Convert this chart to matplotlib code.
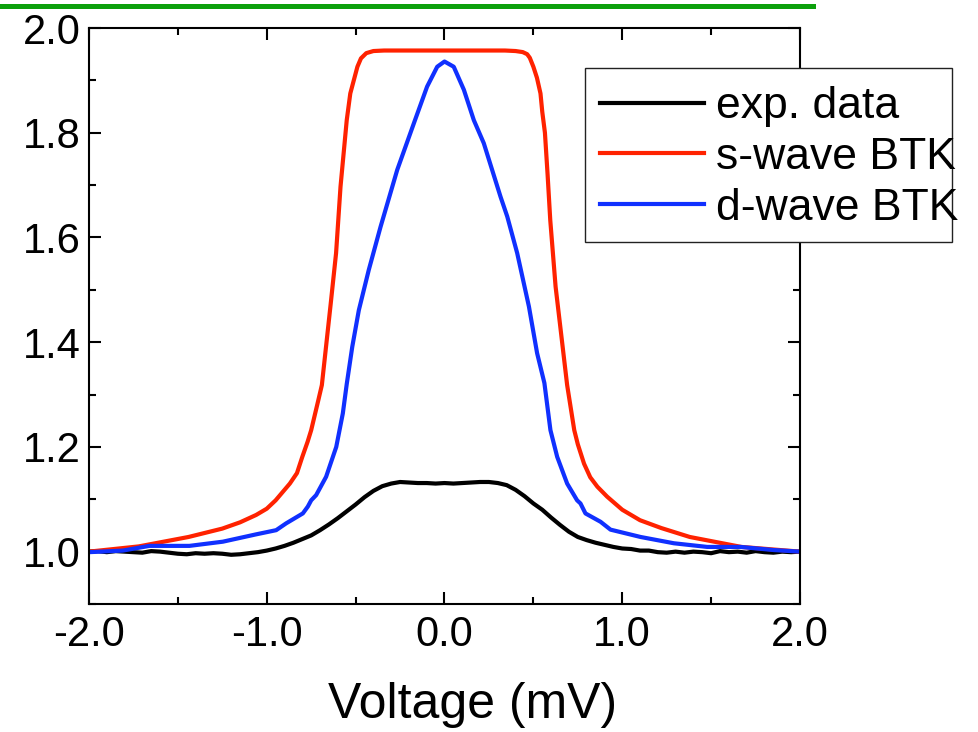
import matplotlib
matplotlib.use('Agg')
import matplotlib.pyplot as plt
from matplotlib.patches import Rectangle
from matplotlib.lines import Line2D
from matplotlib.ticker import MultipleLocator, FormatStrFormatter

plt.rcParams['font.family'] = ['Liberation Sans', 'DejaVu Sans']
plt.rcParams['axes.unicode_minus'] = False

# experimental conductance (normalised)
exp_v = [-2.0, -1.95, -1.9, -1.85, -1.8, -1.75, -1.7, -1.65, -1.6, -1.55,
         -1.5, -1.45, -1.4, -1.35, -1.3, -1.25, -1.2, -1.15, -1.1, -1.05,
         -1.0, -0.95, -0.9, -0.85, -0.8, -0.75, -0.7, -0.65, -0.6, -0.55,
         -0.5, -0.45, -0.4, -0.35, -0.3, -0.25, -0.2, -0.15, -0.1, -0.05,
         0.0, 0.05, 0.1, 0.15, 0.2, 0.25, 0.3, 0.35, 0.4, 0.45,
         0.5, 0.55, 0.6, 0.65, 0.7, 0.75, 0.8, 0.85, 0.9, 0.95,
         1.0, 1.05, 1.1, 1.15, 1.2, 1.25, 1.3, 1.35, 1.4, 1.45,
         1.5, 1.55, 1.6, 1.65, 1.7, 1.75, 1.8, 1.85, 1.9, 1.95, 2.0]
exp_g = [1.000, 1.001, 0.999, 1.001, 1.000, 0.999, 0.998, 1.001, 1.000, 0.998,
         0.996, 0.995, 0.997, 0.996, 0.997, 0.996, 0.994, 0.995, 0.997, 0.999,
         1.002, 1.006, 1.011, 1.017, 1.024, 1.031, 1.041, 1.052, 1.064, 1.077,
         1.090, 1.104, 1.116, 1.125, 1.130, 1.133, 1.132, 1.131, 1.131, 1.130,
         1.131, 1.130, 1.131, 1.132, 1.133, 1.133, 1.131, 1.127, 1.118, 1.106,
         1.092, 1.080, 1.065, 1.051, 1.038, 1.028, 1.022, 1.017, 1.013, 1.009,
         1.006, 1.005, 1.002, 1.002, 0.999, 0.998, 1.000, 0.998, 1.000, 0.999,
         0.997, 1.001, 0.999, 1.000, 0.998, 1.001, 0.999, 0.998, 1.000, 0.999, 1.000]

# s-wave BTK fit
s_v = [-2.0, -1.72, -1.44, -1.25, -1.15, -1.06, -1.0, -0.95, -0.90, -0.87,
       -0.83, -0.80, -0.77, -0.75, -0.71, -0.69, -0.64, -0.61, -0.585, -0.55,
       -0.53, -0.49, -0.47, -0.44, -0.40, -0.34, 0.0, 0.34, 0.40, 0.44,
       0.465, 0.48, 0.50, 0.52, 0.54, 0.55, 0.565, 0.58, 0.595, 0.625,
       0.69, 0.73, 0.75, 0.785, 0.82, 0.86, 0.915, 1.0, 1.10, 1.22,
       1.38, 1.67, 2.0]
s_g = [1.0, 1.010, 1.028, 1.044, 1.056, 1.070, 1.082, 1.098, 1.118, 1.130,
       1.150, 1.181, 1.210, 1.232, 1.289, 1.318, 1.474, 1.570, 1.697, 1.824,
       1.875, 1.926, 1.942, 1.952, 1.956, 1.957, 1.957, 1.957, 1.956, 1.954,
       1.950, 1.943, 1.926, 1.905, 1.875, 1.84, 1.800, 1.72, 1.633, 1.506,
       1.318, 1.232, 1.205, 1.168, 1.142, 1.124, 1.105, 1.080, 1.060, 1.045,
       1.028, 1.009, 1.0]

# d-wave BTK fit
d_v = [-2.0, -1.81, -1.66, -1.435, -1.247, -1.06, -0.947, -0.891, -0.797, -0.769,
       -0.75, -0.722, -0.666, -0.609, -0.572, -0.55, -0.519, -0.482, -0.426, -0.36,
       -0.266, -0.166, -0.098, -0.041, 0.0, 0.052, 0.109, 0.165, 0.221, 0.315,
       0.353, 0.409, 0.475, 0.521, 0.562, 0.596, 0.634, 0.69, 0.746, 0.765,
       0.793, 0.878, 0.934, 1.103, 1.29, 1.478, 1.665, 1.853, 2.0]
d_g = [0.999, 1.002, 1.011, 1.011, 1.019, 1.033, 1.041, 1.054, 1.073, 1.086,
       1.098, 1.108, 1.143, 1.200, 1.264, 1.320, 1.391, 1.461, 1.538, 1.620,
       1.729, 1.824, 1.888, 1.926, 1.936, 1.926, 1.882, 1.824, 1.780, 1.678,
       1.640, 1.570, 1.468, 1.379, 1.322, 1.232, 1.181, 1.130, 1.098, 1.092,
       1.073, 1.057, 1.042, 1.028, 1.016, 1.009, 1.009, 1.003, 1.0]

fig = plt.figure(figsize=(9.79, 7.32), dpi=100)
ax = fig.add_axes([89 / 979, 1 - 604 / 732, 711 / 979, 576 / 732])

ax.plot(exp_v, exp_g, color='black', lw=3, label='exp. data')
ax.plot(s_v, s_g, color='#ff2200', lw=3, label='s-wave BTK')
ax.plot(d_v, d_g, color='#1030ff', lw=3, label='d-wave BTK')

ax.set_xlim(-2.0, 2.0)
ax.set_ylim(0.9, 2.0)
ax.xaxis.set_major_locator(MultipleLocator(1.0))
ax.xaxis.set_minor_locator(MultipleLocator(0.5))
ax.yaxis.set_minor_locator(MultipleLocator(0.1))
ax.xaxis.set_major_formatter(FormatStrFormatter('%.1f'))
ax.yaxis.set_major_formatter(FormatStrFormatter('%.1f'))
ax.set_yticks([1.0, 1.2, 1.4, 1.6, 1.8, 2.0])

ax.tick_params(which='both', direction='in', top=True, right=True, width=1.5)
ax.tick_params(which='major', length=8.5, labelsize=30)
ax.tick_params(which='minor', length=5)
ax.tick_params(axis='x', pad=8)
ax.tick_params(axis='y', pad=6)
for sp in ax.spines.values():
    sp.set_linewidth(1.5)

ax.set_xlabel('Voltage (mV)', fontsize=36)
ax.xaxis.set_label_coords(0.54, -0.136)

# legend frame (text overflows the box in the original)
frame = Rectangle((0.6976, 0.6285), 0.5162, 0.3021, transform=ax.transAxes,
                  facecolor='white', edgecolor='#222222', lw=1.0,
                  clip_on=False, zorder=4)
ax.add_patch(frame)
leg = ax.legend(loc='upper left', bbox_to_anchor=(0.7187, 0.899),
                frameon=False, fontsize=32, borderpad=0, borderaxespad=0,
                handlelength=2.35, handletextpad=0.25, labelspacing=0.22)
leg.set_zorder(5)

# green rule across the top
fig.add_artist(Line2D([0, 813 / 979], [1 - 6 / 732, 1 - 6 / 732],
                      transform=fig.transFigure, color='#0ca00c', lw=3.6))

fig.savefig('out.png', dpi=100)
